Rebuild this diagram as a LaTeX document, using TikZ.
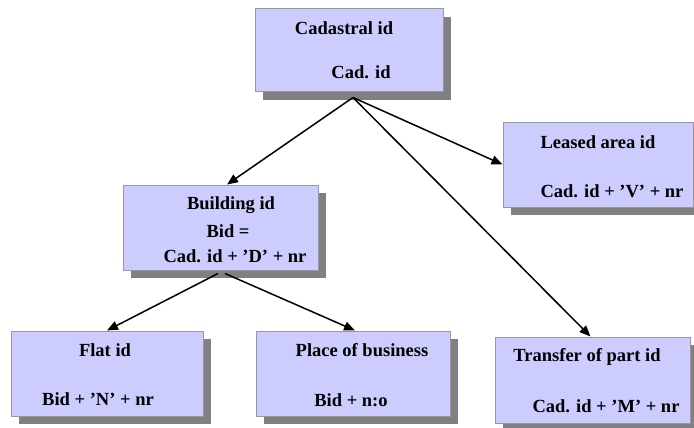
\documentclass[tikz,border=0pt]{standalone}
\usepackage{fontspec}
\setmainfont{Liberation Serif}
\usetikzlibrary{arrows.meta,shadows}
\definecolor{boxfill}{HTML}{CCCCFF}
\definecolor{boxline}{HTML}{999999}
\definecolor{shade}{HTML}{808080}
\begin{document}
\begin{tikzpicture}[x=1pt,y=-1pt,
  idbox/.style={draw=boxline,line width=1pt,fill=boxfill,inner sep=0pt,
    drop shadow={shadow xshift=8pt,shadow yshift=-8pt,fill=shade,opacity=1}},
  txt/.style={inner sep=0pt,font=\fontsize{18.5}{20}\selectfont\bfseries},
  arr/.style={line width=1.5pt,-{Triangle[length=11pt,width=9pt]}}]
\useasboundingbox (0,0) rectangle (694,428);
% boxes
\node[idbox,minimum width=188pt,minimum height=83pt] (cad) at (349,50.5) {};
\node[idbox,minimum width=195pt,minimum height=85pt] (bid) at (220.5,227.5) {};
\node[idbox,minimum width=190pt,minimum height=85pt] (lease) at (598,164.5) {};
\node[idbox,minimum width=192pt,minimum height=85pt] (flat) at (107,373.5) {};
\node[idbox,minimum width=194pt,minimum height=85pt] (place) at (353,373.5) {};
\node[idbox,minimum width=195pt,minimum height=86pt] (trans) at (592.5,380) {};
% texts
\node[txt] (cadA) at (344,28) {Cadastral id};
\node[txt] (cadB) at (361,72) {Cad. id};
\node[txt] (bidA) at (231,205) {Building id};
\node[txt] (bidB) at (228,231) {Bid =};
\node[txt] (bidC) at (235,256) {Cad. id + ’D’ + nr};
\node[txt] (leaseA) at (598,142) {Leased area id};
\node[txt] (leaseB) at (612,191) {Cad. id + ’V’ + nr};
\node[txt] (flatA) at (105,350) {Flat id};
\node[txt] (flatB) at (98,399) {Bid + ’N’ + nr};
\node[txt] (placeA) at (362,350) {Place of business};
\node[txt] (placeB) at (351,400) {Bid + n:o};
\node[txt] (transA) at (587,357) {Transfer of part id};
\node[txt] (transB) at (606,406) {Cad. id + ’M’ + nr};
% connectors
\coordinate (cadfoot) at ([xshift=4pt,yshift=-5pt]cad.south);
\draw[arr] (cadfoot) -- ([xshift=6.5pt]bid.north);
\draw[arr] (cadfoot) -- (lease.west);
\draw[arr] (cadfoot) -- ([xshift=-2pt]trans.north);
\draw[arr] ([xshift=-2.5pt,yshift=-3pt]bid.south) -- (flat.north);
\draw[arr] ([xshift=4.5pt,yshift=-3pt]bid.south) -- ([xshift=2pt]place.north);
\end{tikzpicture}
\end{document}
